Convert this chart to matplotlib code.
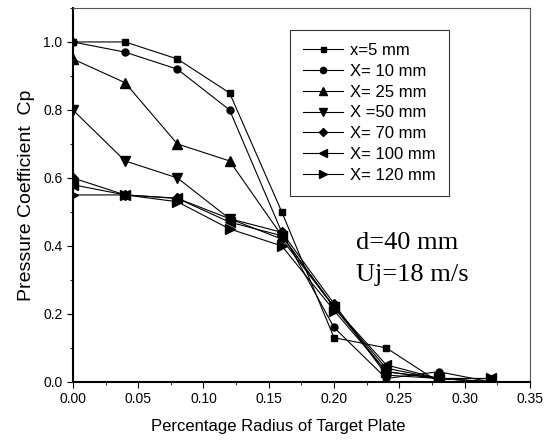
import matplotlib
matplotlib.use("Agg")
import matplotlib.pyplot as plt
from matplotlib.ticker import MultipleLocator

plt.rcParams['font.family'] = ['Liberation Sans', 'DejaVu Sans']

r = [0.0, 0.04, 0.08, 0.12, 0.16, 0.20, 0.24, 0.28, 0.32]
cp_5 = [1.00, 1.00, 0.95, 0.85, 0.50, 0.13, 0.10, 0.00, 0.00]
cp_10 = [1.00, 0.97, 0.92, 0.80, 0.44, 0.16, 0.01, 0.03, 0.00]
cp_25 = [0.95, 0.88, 0.70, 0.65, 0.43, 0.22, 0.04, 0.01, 0.00]
cp_50 = [0.80, 0.65, 0.60, 0.48, 0.42, 0.22, 0.03, 0.01, 0.00]
cp_70 = [0.60, 0.55, 0.54, 0.48, 0.44, 0.23, 0.02, 0.01, 0.00]
cp_100 = [0.58, 0.55, 0.54, 0.47, 0.43, 0.22, 0.05, 0.01, 0.01]
cp_120 = [0.55, 0.55, 0.53, 0.45, 0.40, 0.21, 0.03, 0.01, 0.01]
labels = ['x=5 mm', 'X= 10 mm', 'X= 25 mm', 'X =50 mm', 'X= 70 mm', 'X= 100 mm', 'X= 120 mm']

series = [cp_5, cp_10, cp_25, cp_50, cp_70, cp_100, cp_120]
markers = ['s', 'o', '^', 'v', 'D', '<', '>']
msizes = [4, 5, 6.5, 6.5, 5, 6.5, 6.5]

fig = plt.figure(figsize=(5.52, 4.42), dpi=100)
ax = fig.add_axes([0.132, 0.136, 0.828, 0.846])

for cp, m, ms, lab in zip(series, markers, msizes, labels):
    ax.plot(r, cp, color='black', lw=0.8, marker=m, ms=ms, label=lab)

ax.set_xlim(0, 0.35)
ax.set_ylim(0, 1.1)
ax.xaxis.set_major_locator(MultipleLocator(0.05))
ax.xaxis.set_minor_locator(MultipleLocator(0.025))
ax.yaxis.set_major_locator(MultipleLocator(0.2))
ax.yaxis.set_minor_locator(MultipleLocator(0.1))
ax.tick_params(which='both', direction='out', labelsize=10)
ax.tick_params(which='major', length=4)
ax.tick_params(which='minor', length=2.5)
ax.xaxis.set_major_formatter(plt.FuncFormatter(lambda v, p: f'{v:.2f}'))
ax.yaxis.set_major_formatter(plt.FuncFormatter(lambda v, p: f'{v:.1f}'))
ax.spines['left'].set_linewidth(1.5)
ax.spines['bottom'].set_linewidth(1.5)
ax.spines['top'].set_color('#555555')
ax.spines['right'].set_color('#555555')

ax.set_xlabel('Percentage Radius of Target Plate', fontsize=12)
ax.xaxis.set_label_coords(0.45, -0.1)
ax.set_ylabel('Pressure Coefficient  Cp', fontsize=14, labelpad=6)

leg = ax.legend(loc='upper left', bbox_to_anchor=(0.475, 0.942), fontsize=12,
                frameon=True, fancybox=False, edgecolor='black',
                handlelength=2.4, labelspacing=0.35, borderpad=0.8,
                handletextpad=0.4, markerscale=0.9, borderaxespad=0)
leg.get_frame().set_linewidth(0.8)

ax.text(0.619, 0.356, 'd=40 mm', transform=ax.transAxes, fontsize=19,
        family=['Liberation Serif', 'DejaVu Serif'])
ax.text(0.619, 0.27, 'Uj=18 m/s', transform=ax.transAxes, fontsize=19,
        family=['Liberation Serif', 'DejaVu Serif'])

fig.savefig('out.png', dpi=100)
